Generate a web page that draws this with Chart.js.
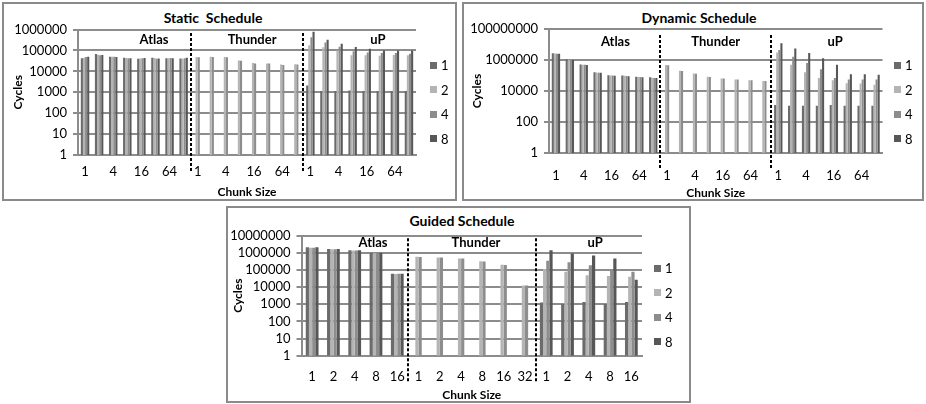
<!DOCTYPE html>
<html>
<head>
<meta charset="utf-8">
<script src="https://cdn.jsdelivr.net/npm/chart.js@4.4.1/dist/chart.umd.min.js"></script>
<style>
  html, body { margin: 0; padding: 0; background: #fff; }
  body { width: 926px; height: 404px; position: relative; overflow: hidden; font-family: Lato, 'Open Sans', sans-serif; }
  .panel { position: absolute; border: 2px solid #8a8a8a; box-sizing: border-box; background: #fff; }
  canvas.layer { position: absolute; left: 0; top: 0; }
  .title { position: absolute; font-weight: bold; font-size: 14px; transform: translate(-50%, -50%); white-space: pre; }
  .legend { position: absolute; font-size: 13px; }
  .legend .item { position: absolute; left: 0; height: 16px; display: flex; align-items: center; white-space: nowrap; }
  .legend .sw { width: 7px; height: 7px; margin-right: 4px; display: inline-block; }
</style>
</head>
<body>
<div class="panel" style="left:2px; top:2px; width:455px; height:199px;"></div>
<div class="panel" style="left:462px; top:2px; width:462px; height:199px;"></div>
<div class="panel" style="left:226px; top:206px; width:465px; height:197px;"></div>

<div class="title" style="left:213px; top:17px;">Static  Schedule</div>
<div class="title" style="left:699px; top:17px;">Dynamic Schedule</div>
<div class="title" style="left:462px; top:220px;">Guided Schedule</div>

<canvas id="staticChart" class="layer" width="926" height="404"></canvas>
<canvas id="dynamicChart" class="layer" width="926" height="404"></canvas>
<canvas id="guidedChart" class="layer" width="926" height="404"></canvas>

<div class="legend" id="staticLegend" style="left:430px; top:65px;"></div>
<div class="legend" id="dynamicLegend" style="left:894px; top:65px;"></div>
<div class="legend" id="guidedLegend" style="left:654px; top:268px;"></div>

<script>
// thread counts (legend) and machines
const seriesNames = ['1', '2', '4', '8'];
const seriesColors = ['#6b6b6b', '#b4b4b4', '#8d8d8d', '#575757'];
const machines = ['Atlas', 'Thunder', 'uP'];

// Static schedule: 8 chunk sizes per machine
const chunkSizes8 = ['1', '2', '4', '8', '16', '32', '64', '128'];
const staticLabels = [...chunkSizes8, ...chunkSizes8, ...chunkSizes8];
const static1 = [42000, 68000, 50000, 44000, 40000, 45000, 42000, 41000,
  null, null, null, null, null, null, null, null,
  2100, 1150, 1150, 1200, 1150, 1150, 1150, 1150];
const static2 = [45000, 62000, 50000, 43000, 41000, 43000, 42000, 40000,
  48000, 50000, 48000, 33000, 25000, 24000, 21000, 22000,
  175000, 140000, 100000, 58000, 58000, 55000, 60000, 58000];
const static4 = [48000, 58000, 50000, 42000, 42000, 40000, 43000, 42000,
  47000, 48000, 47000, 32000, 24000, 24000, 20000, 21000,
  430000, 240000, 150000, 90000, 80000, 75000, 75000, 70000];
const static8 = [50000, 60000, 49000, 42000, 43000, 41000, 42000, 44000,
  null, null, null, null, null, null, null, null,
  780000, 320000, 210000, 145000, 120000, 100000, 100000, 100000];
const staticTicks = [1, 10, 100, 1000, 10000, 100000, 1000000];

// Dynamic schedule
const dynamicLabels = [...chunkSizes8, ...chunkSizes8, ...chunkSizes8];
const dynamic1 = [2700000, 1100000, 520000, 160000, 105000, 100000, 83000, 76000,
  null, null, null, null, null, null, null, null,
  1250, 1100, 1100, 1100, 1250, 1100, 1100, 1100];
const dynamic2 = [2600000, 1050000, 500000, 155000, 100000, 95000, 80000, 72000,
  470000, 200000, 135000, 82000, 65000, 56000, 50000, 45000,
  3000000, 500000, 160000, 70000, 50000, 32000, 30000, 25000];
const dynamic4 = [2500000, 1000000, 500000, 150000, 100000, 92000, 80000, 70000,
  460000, 195000, 130000, 80000, 64000, 55000, 49000, 44000,
  4500000, 1600000, 630000, 250000, 70000, 56000, 56000, 56000];
const dynamic8 = [2500000, 1000000, 480000, 150000, 98000, 90000, 78000, 70000,
  null, null, null, null, null, null, null, null,
  12000000, 5600000, 2800000, 1300000, 500000, 120000, 120000, 110000];
const dynamicTicks = [1, 100, 10000, 1000000, 100000000];

// Guided schedule
const guidedLabels = ['1', '2', '4', '8', '16', '1', '2', '4', '8', '16', '32', '1', '2', '4', '8', '16'];
const guided1 = [2100000, 1650000, 1400000, 1000000, 60000,
  null, null, null, null, null, null,
  1250, 1050, 1350, 1050, 1350];
const guided2 = [2000000, 1600000, 1350000, 950000, 58000,
  590000, 540000, 470000, 320000, 200000, 12600,
  115000, 80000, 50000, 45000, 40000];
const guided4 = [2000000, 1600000, 1350000, 950000, 60000,
  580000, 530000, 460000, 310000, 195000, 12500,
  350000, 280000, 190000, 93000, 80000];
const guided8 = [2100000, 1650000, 1400000, 1000000, 60000,
  null, null, null, null, null, null,
  1400000, 930000, 700000, 470000, 27000];
const guidedTicks = [1, 10, 100, 1000, 10000, 100000, 1000000, 10000000];

const FONT = 'Lato, "Open Sans", sans-serif';
const GRID = '#8c8c8c';

// dashed separators between machines + machine names in the plot
const sectionPlugin = {
    id: 'sections',
    afterDatasetsDraw(chart, args, opts) {
        const { ctx, chartArea } = chart;
        const x = chart.scales.x;
        ctx.save();
        ctx.strokeStyle = '#000';
        ctx.lineWidth = 2;
        ctx.setLineDash([3, 2]);
        opts.splits.forEach(k => {
            const px = Math.round(x.getPixelForValue(k - 0.5));
            ctx.beginPath();
            ctx.moveTo(px, chartArea.top + opts.dashTop);
            ctx.lineTo(px, chartArea.bottom + opts.dashBottom);
            ctx.stroke();
        });
        ctx.setLineDash([]);
        ctx.fillStyle = '#000';
        ctx.font = 'bold 13px ' + FONT;
        ctx.textAlign = 'center';
        ctx.textBaseline = 'middle';
        opts.names.forEach((pos, i) => {
            ctx.fillText(machines[i], x.getPixelForValue(pos - 0.5), chartArea.top + opts.nameOffset);
        });
        ctx.restore();
    }
};

function scheduleChart(canvasId, labels, values, ticks, frame) {
    return new Chart(document.getElementById(canvasId), {
        type: 'bar',
        data: {
            labels: labels,
            datasets: values.map((data, i) => ({
                label: seriesNames[i],
                data: data,
                backgroundColor: seriesColors[i],
                categoryPercentage: 0.6,
                barPercentage: 1.0
            }))
        },
        options: {
            responsive: false,
            animation: false,
            layout: { padding: frame.padding },
            plugins: {
                legend: { display: false },
                tooltip: { enabled: false },
                sections: frame.sections
            },
            scales: {
                x: {
                    grid: { display: false, drawTicks: false },
                    border: { display: true, color: GRID, width: 2 },
                    ticks: {
                        autoSkip: false,
                        maxRotation: 0,
                        padding: frame.xTickPad,
                        color: '#000',
                        font: { family: FONT, size: 13 },
                        callback: (v, i) => (frame.every && i % frame.every) ? '' : labels[i]
                    },
                    title: {
                        display: true, text: 'Chunk Size', color: '#000', padding: 0,
                        font: { family: FONT, size: 12, weight: 'bold' }
                    },
                    afterFit: s => { s.height = frame.xHeight; }
                },
                y: {
                    type: 'logarithmic',
                    min: 1,
                    max: ticks[ticks.length - 1],
                    afterBuildTicks: s => { s.ticks = ticks.map(v => ({ value: v })); },
                    grid: { color: GRID, lineWidth: 2, tickLength: 5 },
                    border: { display: true, color: GRID, width: 2 },
                    ticks: {
                        autoSkip: false,
                        padding: 6,
                        color: '#000',
                        font: { family: FONT, size: 13 },
                        callback: v => String(v)
                    },
                    title: {
                        display: true, text: 'Cycles', color: '#000', padding: 0,
                        font: { family: FONT, size: 12, weight: 'bold' }
                    },
                    afterFit: s => { s.width = frame.yWidth; }
                }
            }
        },
        plugins: [sectionPlugin]
    });
}

function buildLegend(id) {
    const box = document.getElementById(id);
    seriesNames.forEach((name, i) => {
        const item = document.createElement('div');
        item.className = 'item';
        item.style.top = (i * 24.5 - 8) + 'px';
        item.innerHTML = '<span class="sw" style="background:' + seriesColors[i] + '"></span>' + name;
        box.appendChild(item);
    });
}

scheduleChart('staticChart', staticLabels, [static1, static2, static4, static8], staticTicks, {
    padding: { left: 11, right: 510, top: 29.5, bottom: 204.8 },
    yWidth: 67, xHeight: 44.2, xTickPad: 9, every: 2,
    sections: { splits: [8, 16], names: [5.4, 12.36, 21.3], nameOffset: 10, dashTop: 3.5, dashBottom: 18 }
});

scheduleChart('dynamicChart', dynamicLabels, [dynamic1, dynamic2, dynamic4, dynamic8], dynamicTicks, {
    padding: { left: 470, right: 43.5, top: 29, bottom: 203.5 },
    yWidth: 79, xHeight: 47.5, xTickPad: 15, every: 2,
    sections: { splits: [8, 16], names: [4.78, 12.0, 20.6], nameOffset: 13, dashTop: 6, dashBottom: 17 }
});

scheduleChart('guidedChart', guidedLabels, [guided1, guided2, guided4, guided8], guidedTicks, {
    padding: { left: 230.5, right: 284, top: 235.7, bottom: 1.8 },
    yWidth: 71, xHeight: 46.5, xTickPad: 13, every: 0,
    sections: { splits: [5, 11], names: [3.36, 8.2, 13.8], nameOffset: 7, dashTop: 2.5, dashBottom: 26 }
});

buildLegend('staticLegend');
buildLegend('dynamicLegend');
buildLegend('guidedLegend');
</script>
</body>
</html>
